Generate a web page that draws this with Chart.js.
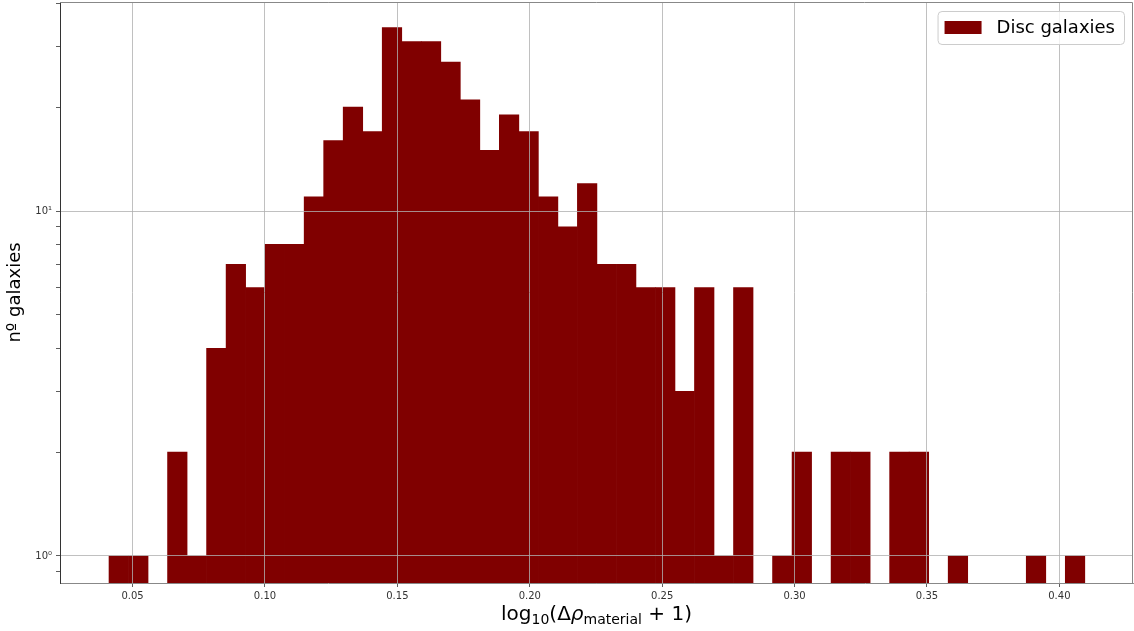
<!DOCTYPE html>
<html>
<head>
<meta charset="utf-8">
<script src="https://cdn.jsdelivr.net/npm/chart.js@4.4.0/dist/chart.umd.min.js"></script>
<style>
  html, body { margin: 0; padding: 0; background: #fff; }
  #wrap { width: 1134px; height: 631px; }
</style>
</head>
<body>
<div id="wrap"><canvas id="chart" width="1134" height="631"></canvas></div>
<script>
// histogram: 50 equal bins of log10(Δρ + 1)
const binStart = 0.0411;
const binWidth = 0.00737;
const counts = [1, 1, 0, 2, 1, 4, 7, 6, 8, 8,
                11, 16, 20, 17, 34, 31, 31, 27, 21, 15,
                19, 17, 11, 9, 12, 7, 7, 6, 6, 3,
                6, 1, 6, 0, 1, 2, 0, 2, 2, 0,
                2, 2, 0, 1, 0, 0, 0, 1, 0, 1];
const xTicks = [0.05, 0.10, 0.15, 0.20, 0.25, 0.30, 0.35, 0.40];
const yTicks = [0.9, 1, 2, 3, 4, 5, 6, 7, 8, 9, 10, 20, 30, 40];
const yLabels = { 1: "10\u2070", 10: "10\u00b9" };
const seriesLabel = "Disc galaxies";
const yTitle = "n\u00ba galaxies";

const FONT = "'DejaVu Sans', sans-serif";

// one point per bin centre, empty bins left out of the log axis
const histData = counts.map((c, i) => ({
    x: binStart + (i + 0.5) * binWidth,
    y: c > 0 ? c : null
}));

// top and right edges of the plot frame
const framePlugin = {
    id: "frame",
    afterDraw(chart) {
        const { ctx, chartArea: a } = chart;
        ctx.save();
        ctx.strokeStyle = "#888";
        ctx.lineWidth = 1;
        ctx.beginPath();
        ctx.moveTo(a.left, a.top + 0.5);
        ctx.lineTo(a.right - 0.5, a.top + 0.5);
        ctx.lineTo(a.right - 0.5, a.bottom);
        ctx.stroke();
        ctx.restore();
    }
};

// x axis title with subscripts, log10(Δρ_material + 1)
const xTitlePlugin = {
    id: "xTitle",
    afterDraw(chart) {
        const { ctx, chartArea: a } = chart;
        const size = 20;
        const sub = Math.round(size * 0.7);
        const parts = [
            { t: "log", font: `${size}px ${FONT}`, dy: 0 },
            { t: "10", font: `${sub}px ${FONT}`, dy: size * 0.22 },
            { t: "(\u0394", font: `${size}px ${FONT}`, dy: 0 },
            { t: "\u03c1", font: `italic ${size}px ${FONT}`, dy: 0 },
            { t: "material", font: `${sub}px ${FONT}`, dy: size * 0.22 },
            { t: " + 1)", font: `${size}px ${FONT}`, dy: 0 }
        ];
        ctx.save();
        let total = 0;
        parts.forEach(p => { ctx.font = p.font; p.w = ctx.measureText(p.t).width; total += p.w; });
        let x = (a.left + a.right) / 2 - total / 2;
        const base = 620;
        ctx.fillStyle = "#000";
        ctx.textBaseline = "alphabetic";
        parts.forEach(p => {
            ctx.font = p.font;
            ctx.fillText(p.t, x, base + p.dy);
            x += p.w;
        });
        ctx.restore();
    }
};

// framed legend in the upper right corner of the plot
const legendPlugin = {
    id: "legendBox",
    afterDraw(chart) {
        const { ctx, chartArea: a } = chart;
        const ds = chart.data.datasets[0];
        ctx.save();
        ctx.font = `18px ${FONT}`;
        const tw = ctx.measureText(ds.label).width;
        const w = 7 + 37 + 15 + tw + 9;
        const h = 33;
        const right = a.right - 9;
        const top = a.top + 9;
        const left = right - w;
        ctx.fillStyle = "rgba(255,255,255,0.8)";
        ctx.strokeStyle = "#cccccc";
        ctx.lineWidth = 1;
        ctx.beginPath();
        ctx.roundRect(left + 0.5, top + 0.5, w, h, 4);
        ctx.fill();
        ctx.stroke();
        ctx.fillStyle = ds.backgroundColor;
        ctx.fillRect(left + 7, top + 10, 37, 13);
        ctx.fillStyle = "#000";
        ctx.textBaseline = "middle";
        ctx.fillText(ds.label, left + 7 + 37 + 15, top + h / 2 + 1);
        ctx.restore();
    }
};

const ctx = document.getElementById("chart").getContext("2d");

new Chart(ctx, {
    type: "bar",
    data: {
        datasets: [{
            label: seriesLabel,
            data: histData,
            backgroundColor: "#800000",
            borderWidth: 0,
            barPercentage: 1.0,
            categoryPercentage: 1.0
        }]
    },
    options: {
        responsive: false,
        animation: false,
        layout: { padding: { top: 2, right: 1, left: 0, bottom: 0 } },
        plugins: {
            legend: { display: false },
            tooltip: { enabled: false }
        },
        scales: {
            x: {
                type: "linear",
                min: 0.02259,
                max: 0.4278,
                offset: false,
                afterBuildTicks: axis => { axis.ticks = xTicks.map(v => ({ value: v })); },
                afterFit: axis => {
                    axis.height = 48;
                    axis.paddingLeft = 0;
                    axis.paddingRight = 0;
                },
                ticks: {
                    autoSkip: false,
                    maxRotation: 0,
                    padding: 3,
                    color: "#333",
                    font: { family: FONT, size: 10 },
                    callback: v => v.toFixed(2)
                },
                grid: {
                    offset: false,
                    z: 1,
                    color: "#b0b0b0",
                    lineWidth: 0.8,
                    tickColor: "#333",
                    tickLength: 4
                },
                border: { color: "#888", width: 1, z: 2 }
            },
            y: {
                type: "logarithmic",
                min: 0.835,
                max: 40.35,
                afterBuildTicks: axis => { axis.ticks = yTicks.map(v => ({ value: v, major: v in yLabels })); },
                afterFit: axis => {
                    axis.width = 60;
                    axis.paddingTop = 0;
                    axis.paddingBottom = 0;
                },
                ticks: {
                    autoSkip: false,
                    padding: 4,
                    color: "#333",
                    font: { family: FONT, size: 10 },
                    callback: v => yLabels[v] || ""
                },
                grid: {
                    z: 1,
                    color: c => (c.tick && yLabels[c.tick.value]) ? "#b0b0b0" : "rgba(0,0,0,0)",
                    lineWidth: 0.8,
                    tickColor: "#333",
                    tickLength: 4
                },
                border: { color: "#333", width: 1, z: 2 },
                title: {
                    display: true,
                    text: yTitle,
                    color: "#000",
                    font: { family: FONT, size: 18 },
                    padding: { top: 5, bottom: 0 }
                }
            }
        }
    },
    plugins: [framePlugin, xTitlePlugin, legendPlugin]
});
</script>
</body>
</html>
